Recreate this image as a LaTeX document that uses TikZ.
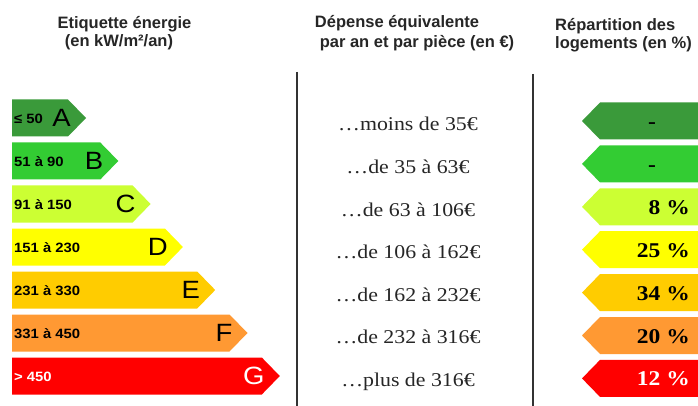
\documentclass[tikz,border=0pt]{standalone}
\usepackage{fontspec}
\setmainfont{Liberation Serif}
\setsansfont{Liberation Sans}
\newfontfamily\labfont[FakeStretch=1.1]{Liberation Sans}
\newfontfamily\midfont[FakeStretch=1.12]{Liberation Serif}
\definecolor{cA}{HTML}{3A9A3A}
\definecolor{cB}{HTML}{33CC33}
\definecolor{cC}{HTML}{CCFF33}
\definecolor{cD}{HTML}{FFFF00}
\definecolor{cE}{HTML}{FFCC00}
\definecolor{cF}{HTML}{FF9933}
\definecolor{cG}{HTML}{FF0000}
\definecolor{linegray}{HTML}{333333}
\begin{document}
\begin{tikzpicture}[x=1pt,y=-1pt,
  head/.style={font=\sffamily\bfseries\fontsize{16.5}{18}\selectfont, inner sep=0pt, text=black!85},
  lab/.style={font=\labfont\bfseries\fontsize{13.5}{15}\selectfont, inner sep=0pt},
  letterbox/.style={font=\labfont\fontsize{25}{27}\selectfont, inner sep=0pt},
  mid/.style={font=\midfont\fontsize{19.5}{21}\selectfont, inner sep=0pt, anchor=base, text=black!85},
  pct/.style={font=\midfont\bfseries\fontsize{21}{23}\selectfont, inner sep=0pt, anchor=base east},
  vline/.style={line width=2pt, linegray}]
\useasboundingbox[fill=white] (0,0) rectangle (698,406);

% headers
\node[head] (h1a) at (124.5,24) {Etiquette énergie};
\node[head] (h1b) at (119,42) {(en kW/m²/an)};
\node[head] (h2a) at (397,23) {Dépense équivalente};
\node[head] (h2b) at (417,43) {par an et par pièce (en €)};
\node[head, anchor=west] (h3a) at (555,26) {Répartition des};
\node[head, anchor=west] (h3b) at (555,44) {logements (en \%)};

% separators
\coordinate (v1t) at (297,72);
\coordinate (v1b) at (297,406);
\coordinate (v2t) at (533,74);
\coordinate (v2b) at (533,406);
\draw[vline] (v1t) -- (v1b);
\draw[vline] (v2t) -- (v2b);

% left energy arrows
\foreach \i/\col/\lab/\ltr/\tc in {0/cA/≤ 50/A/black,1/cB/51 à 90/B/black,2/cC/91 à 150/C/black,3/cD/151 à 230/D/black,4/cE/231 à 330/E/black,5/cF/331 à 450/F/black,6/cG/> 450/G/white}{
  \pgfmathsetmacro\cy{118+43*\i}
  \pgfmathsetmacro\tip{86+32.3*\i}
  \fill[\col] (12,\cy-18.5) -- (\tip-18,\cy-18.5) -- (\tip,\cy) -- (\tip-18,\cy+18.5) -- (12,\cy+18.5) -- cycle;
  \node[lab, text=\tc, anchor=west] (l\ltr) at (14,\cy+1) {\lab};
  \node[letterbox, text=\tc, anchor=east] (L\ltr) at (\tip-15,\cy) {\ltr};
}

% middle texts
\foreach \i/\txt in {0/{…moins de 35€},1/{…de 35 à 63€},2/{…de 63 à 106€},3/{…de 106 à 162€},4/{…de 162 à 232€},5/{…de 232 à 316€},6/{…plus de 316€}}{
  \pgfmathsetmacro\by{131+42.5*\i}
  \node[mid] (m\i) at (408,\by) {\txt};
}

% right distribution arrows
\foreach \i/\col in {0/cA,1/cB,2/cC,3/cD,4/cE,5/cF,6/cG}{
  \pgfmathsetmacro\cy{121+42.9*\i}
  \fill[\col] (698,\cy-18.5) -- (600,\cy-18.5) -- (582,\cy) -- (600,\cy+18.5) -- (698,\cy+18.5) -- cycle;
}
\node[pct, anchor=base] (pA) at (652,128.5) {-};
\node[pct, anchor=base] (pB) at (652,171.4) {-};
\node[pct] (pC) at (690,214.3) {8 \%};
\node[pct] (pD) at (690,257.2) {25 \%};
\node[pct] (pE) at (690,300.1) {34 \%};
\node[pct] (pF) at (690,343) {20 \%};
\node[pct, text=white] (pG) at (690,385.9) {12 \%};
\end{tikzpicture}
\end{document}
